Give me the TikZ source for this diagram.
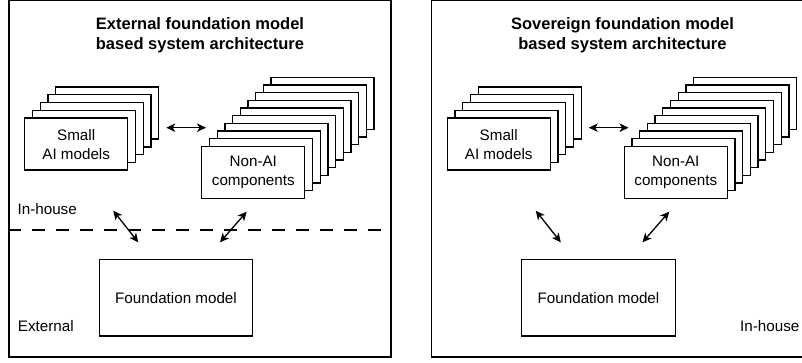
\documentclass[tikz,border=0pt]{standalone}
\usepackage{fontspec}
\setmainfont{Liberation Sans}
\usetikzlibrary{arrows.meta}

\begin{document}
\begin{tikzpicture}[x=1pt,y=1pt,line width=1.3pt,
  card/.style={draw,fill=white,minimum width=103pt,minimum height=52pt,inner sep=0pt,
    align=center,font=\fontsize{15.2}{19}\selectfont},
  bigbox/.style={draw,minimum width=153.4pt,minimum height=76.7pt,inner sep=0pt,
    font=\fontsize{15.2}{19}\selectfont},
  label/.style={inner sep=0pt,font=\fontsize{15.2}{19}\selectfont},
  heading/.style={align=center,inner sep=0pt,font=\bfseries\fontsize{16.5}{20}\selectfont},
  link/.style={{Stealth[length=9pt,width=8.5pt,inset=2.5pt]}-{Stealth[length=9pt,width=8.5pt,inset=2.5pt]}}]
\useasboundingbox (0,0) rectangle (802,362);
\clip (0,0) rectangle (802,362);

\foreach \pn/\dx/\ttl in {ext/0/External,sov/422.5/Sovereign}{
\begin{scope}[xshift=\dx pt]
\node[draw,minimum width=382pt,minimum height=356.3pt,inner sep=0pt] (\pn-panel) at (200,183.15) {};
\node[heading] (\pn-title) at (200,327) {\ttl{} foundation model\\based system architecture};

% small AI models, back to front
\foreach \i in {4,3,2,1}
  \node[card] at (76.2+7.75*\i,217.9+7.75*\i) {};
\node[card] (\pn-small) at (76.2,217.9) {Small\\AI models};

% non-AI components, back to front
\foreach \i in {9,8,...,1}
  \node[card] at (253.3+7.7*\i,189.5+7.7*\i) {};
\node[card] (\pn-nonai) at (253.3,189.5) {Non-AI\\components};

\node[bigbox] (\pn-fm) at (176,64.3) {Foundation model};

\coordinate (\pn-h1) at (166.3,234.3);
\coordinate (\pn-h2) at (206,234.3);
\coordinate (\pn-a1) at (113.3,151.3);
\coordinate (\pn-a2) at (138.3,119.7);
\coordinate (\pn-a3) at (246.7,150.3);
\coordinate (\pn-a4) at (220,119.7);
\draw[link] (\pn-h1) -- (\pn-h2);
\draw[link] (\pn-a1) -- (\pn-a2);
\draw[link] (\pn-a3) -- (\pn-a4);
\end{scope}
}

\draw[dashed,dash pattern=on 13pt off 11pt] (ext-panel.west |- 0,132) -- (ext-panel.east |- 0,132);
\node[label,anchor=west] (ext-inhouse) at (17,153) {In-house};
\node[label,anchor=west] (ext-external) at (17.3,36) {External};
\node[label,anchor=east] (sov-inhouse) at (800,36.3) {In-house};
\end{tikzpicture}
\end{document}
